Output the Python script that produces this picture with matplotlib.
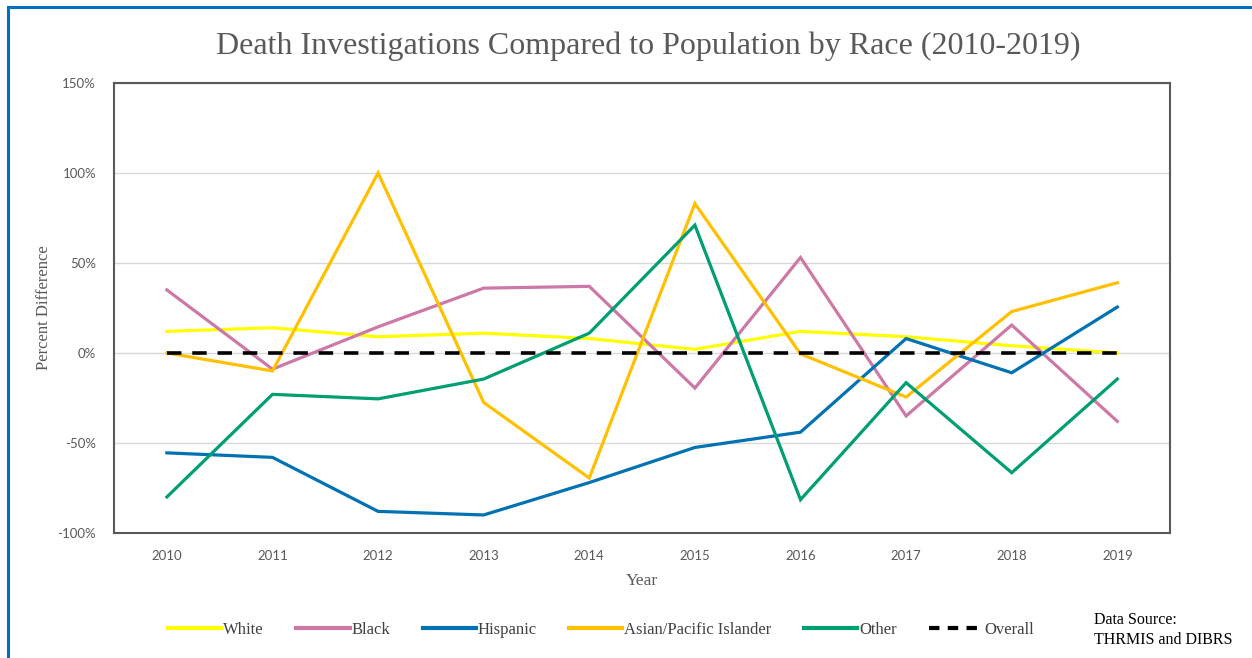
import matplotlib
matplotlib.use('Agg')
import matplotlib.pyplot as plt
from matplotlib.lines import Line2D
from matplotlib.ticker import PercentFormatter

matplotlib.rcParams['axes.unicode_minus'] = False

# --- DATA ---
years = [2010, 2011, 2012, 2013, 2014, 2015, 2016, 2017, 2018, 2019]
white = [12, 14, 9, 11, 8, 2, 12, 9, 4, 0]
black = [35, -9, 14.5, 36, 37, -19.5, 53, -35, 15.5, -38]
hispanic = [-55.5, -58, -88, -90, -72, -52.5, -44, 8, -11, 25.5]
asian = [0, -10, 100, -27.5, -69.5, 83, -0.5, -24.5, 23, 39]
other = [-80, -23, -25.5, -14.5, 11, 71, -81.5, -16.5, -66.5, -14.5]
overall = [0, 0, 0, 0, 0, 0, 0, 0, 0, 0]

series_names = ['White', 'Black', 'Hispanic', 'Asian/Pacific Islander', 'Other', 'Overall']
series_values = [white, black, hispanic, asian, other, overall]
series_colors = ['#FFFF00', '#CC79A7', '#0072B2', '#FFC000', '#009E73', '#000000']
y_ticks = [-100, -50, 0, 50, 100, 150]

SERIF = 'Liberation Serif'
SANS = 'Lato'
GRAY = '#595959'

fig = plt.figure(figsize=(12.52, 6.58), dpi=100)
ax = fig.add_axes([0.0911, 0.19, 0.8435, 0.684])

x = list(range(len(years)))
for name, vals, col in zip(series_names, series_values, series_colors):
    if name == 'Overall':
        ax.plot(x, vals, color=col, lw=2.6, ls=(0, (4, 3)), zorder=4, label=name)
    else:
        ax.plot(x, vals, color=col, lw=2.3, zorder=3, label=name,
                solid_joinstyle='miter')

ax.set_xlim(-0.5, len(years) - 0.5)
ax.set_ylim(-100, 150)
ax.set_yticks(y_ticks)
ax.yaxis.set_major_formatter(PercentFormatter(decimals=0))
ax.set_xticks(x)
ax.set_xticklabels([str(y) for y in years])
ax.grid(axis='y', color='#D9D9D9', lw=1)
ax.set_axisbelow(True)
ax.tick_params(length=0, labelsize=9.5, colors=GRAY, pad=12)
for lab in ax.get_xticklabels() + ax.get_yticklabels():
    lab.set_fontfamily(SANS)
ax.tick_params(axis='y', pad=13)
for sp in ax.spines.values():
    sp.set_color(GRAY)
    sp.set_linewidth(1.5)

ax.set_ylabel('Percent Difference', fontfamily=SERIF, fontsize=12, color=GRAY, labelpad=4)
ax.set_xlabel('Year', fontfamily=SERIF, fontsize=12.5, color=GRAY, labelpad=8)

fig.text(0.518, 0.93, 'Death Investigations Compared to Population by Race (2010-2019)',
         ha='center', va='center', fontfamily=SERIF, fontsize=23, color=GRAY)

handles = []
for name, col in zip(series_names, series_colors):
    if name == 'Overall':
        handles.append(Line2D([], [], color=col, lw=3, ls=(0, (2.5, 2))))
    else:
        handles.append(Line2D([], [], color=col, lw=3))
leg = fig.legend(handles, series_names, loc='center', bbox_to_anchor=(0.48, 0.043),
                 ncol=6, frameon=False, handlelength=3.2, handletextpad=0.1,
                 columnspacing=1.95, prop={'family': SERIF, 'size': 12})
for t in leg.get_texts():
    t.set_color('#404040')

fig.text(0.874, 0.043, 'Data Source:\nTHRMIS and DIBRS', ha='left', va='center',
         fontfamily=SERIF, fontsize=11.5, color='black', linespacing=1.3)

# blue frame edges visible at top and left
fig.add_artist(Line2D([0.006, 1.0], [0.9895, 0.9895], color='#0070C0', lw=2.2,
                      transform=fig.transFigure))
fig.add_artist(Line2D([0.006, 0.006], [0.0, 0.9895], color='#0070C0', lw=2.2,
                      transform=fig.transFigure))

fig.savefig('out.png', dpi=100)
